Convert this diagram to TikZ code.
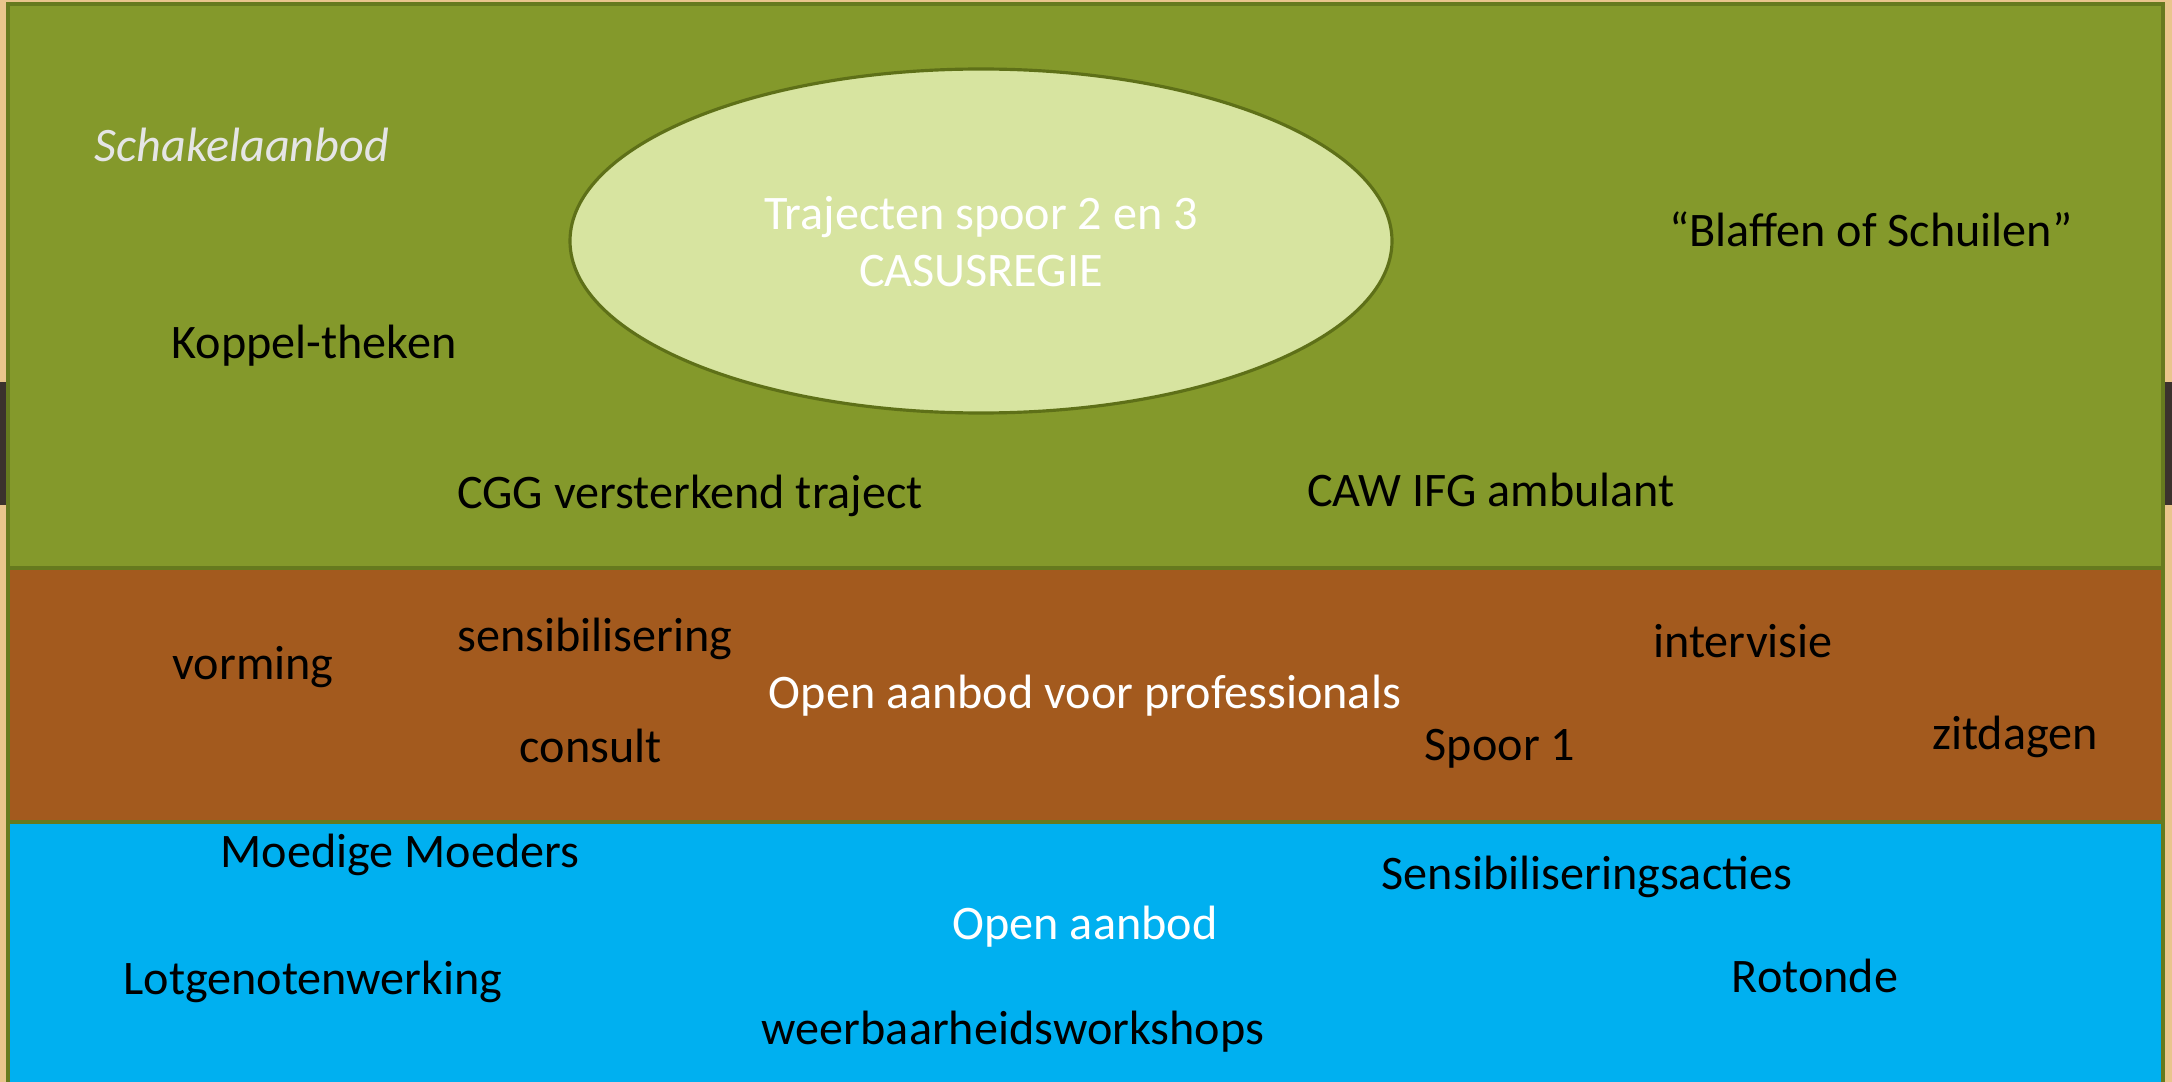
\documentclass[tikz,border=0pt]{standalone}
\usepackage{fontspec}
\setmainfont{Carlito}
\definecolor{wood}{HTML}{E9C58C}
\definecolor{darkbar}{HTML}{3B322D}
\definecolor{leaf}{HTML}{84992B}
\definecolor{leafline}{HTML}{667A1E}
\definecolor{rust}{HTML}{A35A1E}
\definecolor{sky}{HTML}{00B0F0}
\definecolor{pale}{HTML}{D7E4A0}
\definecolor{paleline}{HTML}{5E7018}
\begin{document}
\begin{tikzpicture}[x=0.01cm, y=-0.01cm,
        band/.style={draw=leafline, line width=0.9pt},
        lbl/.style={font=\fontsize{13.7}{16.2}\selectfont, inner sep=0pt},
        wlbl/.style={lbl, text=white, align=center}]
        \useasboundingbox (0, 0) rectangle (2172, 1082);
        \fill[wood] (0, 0) rectangle (2172, 1082);
        \fill[darkbar] (0, 382) rectangle (8, 505);
        \fill[darkbar] (2164, 382) rectangle (2172, 505);
        \filldraw[band, fill=leaf] (8, 4) rectangle (2163, 568);
        \filldraw[band, fill=rust] (8, 568) rectangle (2163, 822);
        \filldraw[band, fill=sky] (8, 822) rectangle (2163, 1090);
        \filldraw[draw=paleline, line width=0.9pt, fill=pale] (981, 241) 
        ellipse [x radius=411, y radius=172];
        % schakelaanbod
        \node[lbl, anchor=west, text=black!10, font=\fontsize{13.7}{16.2}\selectfont\itshape] 
        (schakel) at (94, 145) {Schakelaanbod};
        \node[wlbl] (traject) at (981, 242) {Trajecten spoor 2 en 3\\CASUSREGIE};
        \node[lbl] (blaffen) at (1871, 229) {“Blaffen of Schuilen”};
        \node[lbl] (koppel) at (314, 346) {Koppel-theken};
        \node[lbl] (cgg) at (690, 496) {CGG versterkend traject};
        \node[lbl] (caw) at (1491, 490) {CAW IFG ambulant};
        % spoor 1
        \node[lbl] (vorming) at (253, 667) {vorming};
        \node[lbl] (sensi) at (595, 639) {sensibilisering};
        \node[wlbl] (prof) at (1085, 696) {Open aanbod voor professionals};
        \node[lbl] (consult) at (591, 746) {consult};
        \node[lbl] (intervisie) at (1743, 641) {intervisie};
        \node[lbl] (spoor) at (1500, 749) {Spoor 1};
        \node[lbl] (zitdagen) at (2015, 737) {zitdagen};
        % open aanbod
        \node[lbl] (moeders) at (400, 855) {Moedige Moeders};
        \node[lbl] (acties) at (1587, 877) {Sensibiliseringsacties};
        \node[wlbl] (open) at (1085, 927) {Open aanbod};
        \node[lbl] (lotgenoten) at (313, 982) {Lotgenotenwerking};
        \node[lbl] (rotonde) at (1815, 976) {Rotonde};
        \node[lbl] (weerbaar) at (1013, 1032) {weerbaarheidsworkshops};
    \end{tikzpicture}
\end{document}
